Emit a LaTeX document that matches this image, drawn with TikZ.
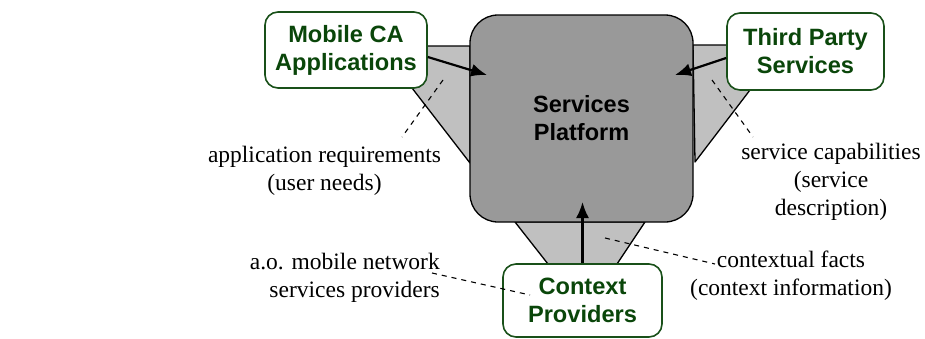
\documentclass[tikz,border=0pt]{standalone}
\usepackage{fontspec}
\setmainfont{Liberation Serif}
\setsansfont{Liberation Sans}
\usetikzlibrary{arrows.meta,calc,positioning}
\definecolor{boxgreen}{RGB}{25,80,25}
\definecolor{txtgreen}{RGB}{10,70,10}
\definecolor{platgray}{RGB}{153,153,153}
\definecolor{funnelgray}{RGB}{192,192,192}

\begin{document}
\begin{tikzpicture}[x=1pt,y=-1pt,
		party/.style={draw=boxgreen,line width=1.6pt,fill=white,rounded corners=13pt,align=center,
			font=\sffamily\bfseries\fontsize{23.6}{28}\selectfont,text=txtgreen,inner sep=0pt},
		funnel/.style={draw=black,line width=1.3pt,fill=funnelgray,line join=round},
		flow/.style={-{Latex[length=16pt,width=13pt]},line width=2.2pt},
		hint/.style={line width=1.1pt,dash pattern=on 5pt off 5pt},
		note/.style={align=center,font=\fontsize{23.5}{28}\selectfont,inner sep=0pt}]
	\useasboundingbox (0,0) rectangle (925,338);
	% funnels behind the boxes
	\draw[funnel] (412,88) -- (470,163) -- (470,46) -- (415,46) -- cycle;
	\draw[funnel] (695,162) -- (750,90) -- (740,45) -- (693,45) -- cycle;
	\draw[funnel] (515,222) -- (548,264) -- (617,264) -- (645,222) -- cycle;
	\node[draw,line width=1.3pt,fill=platgray,rounded corners=28pt,minimum width=223pt,minimum height=207pt,
		align=center,font=\sffamily\bfseries\fontsize{23.5}{28}\selectfont,inner sep=0pt] (platform) at (581.5,118.5) {Services\\Platform};
	\node[party,minimum width=162pt,minimum height=76pt] (mobile) at (346,50) {Mobile CA\\Applications};
	\node[party,minimum width=157pt,minimum height=77pt] (third) at (805.5,51.5) {Third Party\\Services};
	\node[party,minimum width=159pt,minimum height=73pt] (context) at (582.5,300.5) {Context\\Providers};
	\coordinate (appin) at (487,75);
	\coordinate (servin) at (675,75);
	\coordinate (ctxin) at (582.5,202);
	\draw[flow] ([yshift=-7pt]mobile.east) -- (appin);
	\draw[flow] ([yshift=-6.5pt]third.west) -- (servin);
	\draw[flow] (context.north) -- (ctxin);
	% labels and their leaders
	\node[note,anchor=base] (needs) at (324.5,190) {application requirements\\(user needs)};
	\node[note,anchor=base] (caps) at (831,215) {service capabilities\\(service\\description)};
	\node[note,anchor=base east,align=right] (operators) at (440,297) {a.o. mobile network\\services providers};
	\node[note,anchor=base] (facts) at (791,295) {contextual facts\\(context information)};
	\coordinate (needs1) at (443,80);
	\coordinate (needs2) at (402,137);
	\coordinate (caps1) at (712,80);
	\coordinate (caps2) at (753,137);
	\coordinate (ops1) at (432,273);
	\coordinate (ops2) at (530,295);
	\coordinate (facts1) at (605,238);
	\coordinate (facts2) at (715,264);
	\draw[hint] (needs1) -- (needs2);
	\draw[hint] (caps1) -- (caps2);
	\draw[hint] (ops1) -- (ops2);
	\draw[hint] (facts1) -- (facts2);
\end{tikzpicture}
\end{document}
